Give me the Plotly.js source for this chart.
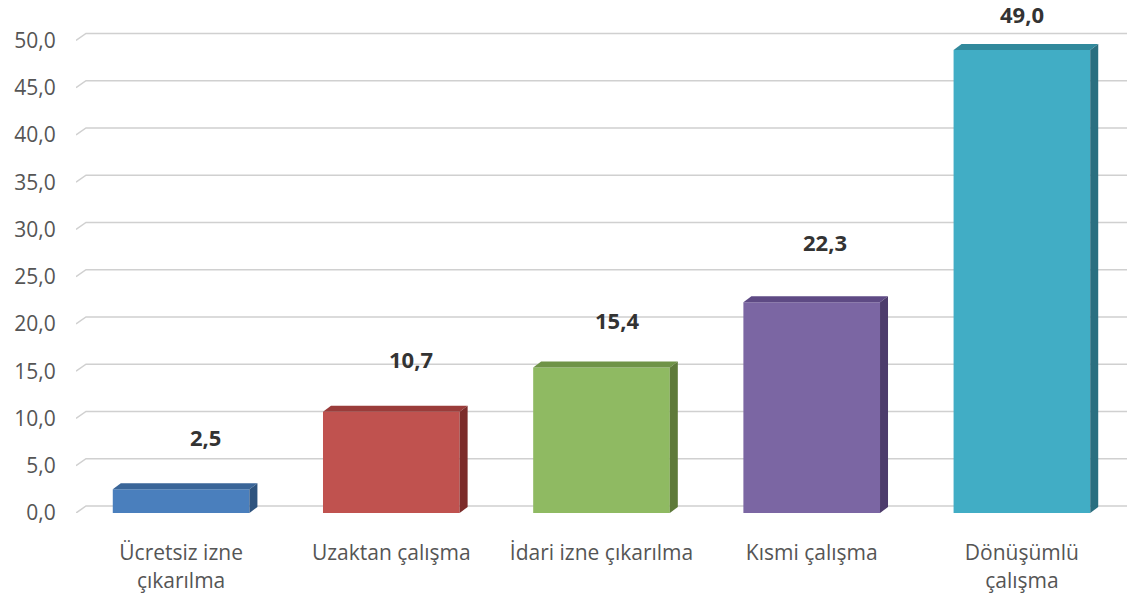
<!DOCTYPE html>
<html>
<head>
<meta charset="utf-8">
<script src="https://cdn.plot.ly/plotly-3.0.1.min.js"></script>
<style>html,body{margin:0;padding:0;background:#fff;}#chart{width:1127px;height:594px;}</style>
</head>
<body>
<div id="chart"></div>
<script>
// ---- data ----
const categories = ["Ücretsiz izne<br>çıkarılma", "Uzaktan çalışma", "İdari izne çıkarılma", "Kısmi çalışma", "Dönüşümlü<br>çalışma"];
const values = [2.5, 10.7, 15.4, 22.3, 49.0];
const yTickValues = [0, 5, 10, 15, 20, 25, 30, 35, 40, 45, 50];

// ---- styles ----
const frontColors = ["#4a7fbd", "#c0524f", "#8fba62", "#7b66a3", "#41adc5"];
const topColors   = ["#3a6598", "#9a3c3a", "#6f9347", "#5e4a84", "#31899c"];
const sideColors  = ["#2e537e", "#7c2c2a", "#5e7a3a", "#4d3c6c", "#2a6f80"];
const labelOffsetPx = [52, 53, 47, 60, 36];
const labelShiftXPx = [24, 20, 15, 13, 0];

const barWidth = 0.65;
const pxPerX = 1051 / 5;      // plot width / category span
const pxPerY = 482 / 51;      // plot height / y span
const barDx = 8 / pxPerX, barDy = 6 / pxPerY;
const gridDx = 10 / pxPerX, gridDy = 7 / pxPerY;

const fmt = v => v.toFixed(1).replace('.', ',');
const xs = categories.map((_, i) => i);

// gridlines (3D wall style) as shapes below the bars
const shapes = yTickValues.map(v => ({
  type: 'path', xref: 'x', yref: 'y', layer: 'below',
  path: 'M ' + (-0.5) + ',' + v + ' L ' + (-0.5 + gridDx) + ',' + (v + gridDy) + ' L 4.5,' + (v + gridDy),
  line: {color: '#d0d0d0', width: 1.5}
}));

const traces = [];
// front faces
traces.push({
  type: 'bar', x: xs, y: values, width: barWidth,
  marker: {color: frontColors, line: {width: 0}},
  hoverinfo: 'skip', showlegend: false
});
// top & side faces
values.forEach((v, i) => {
  const l = i - barWidth / 2, r = i + barWidth / 2;
  traces.push({
    type: 'scatter', mode: 'lines', fill: 'toself', hoverinfo: 'skip', showlegend: false, cliponaxis: false,
    x: [l, l + barDx, r + barDx, r, l], y: [v, v + barDy, v + barDy, v, v],
    line: {width: 0, color: topColors[i]}, fillcolor: topColors[i]
  });
  traces.push({
    type: 'scatter', mode: 'lines', fill: 'toself', hoverinfo: 'skip', showlegend: false, cliponaxis: false,
    x: [r, r + barDx, r + barDx, r, r], y: [0, barDy, v + barDy, v, 0],
    line: {width: 0, color: sideColors[i]}, fillcolor: sideColors[i]
  });
});

const annotations = values.map((v, i) => ({
  x: i, y: v, xref: 'x', yref: 'y', text: '<b>' + fmt(v) + '</b>',
  showarrow: false, yanchor: 'middle', yshift: labelOffsetPx[i], xshift: labelShiftXPx[i],
  font: {family: 'Open Sans', size: 22, color: '#333333'}
}));

const layout = {
  width: 1127, height: 594,
  margin: {l: 76, r: 0, t: 31, b: 81},
  paper_bgcolor: '#ffffff', plot_bgcolor: 'rgba(0,0,0,0)',
  showlegend: false,
  xaxis: {
    range: [-0.5, 4.5], tickvals: xs, ticktext: categories,
    showgrid: false, zeroline: false, showline: false,
    ticks: 'outside', ticklen: 21, tickcolor: 'rgba(0,0,0,0)',
    tickfont: {family: 'Open Sans', size: 21, color: '#555555'}, fixedrange: true
  },
  yaxis: {
    range: [0, 51], tickvals: yTickValues, ticktext: yTickValues.map(fmt),
    showgrid: false, zeroline: false, showline: false,
    ticks: 'outside', ticklen: 15, tickcolor: 'rgba(0,0,0,0)',
    tickfont: {family: 'Open Sans', size: 21, color: '#555555'}, fixedrange: true
  },
  shapes: shapes,
  annotations: annotations
};

Plotly.newPlot('chart', traces, layout, {staticPlot: true, displayModeBar: false});
</script>
</body>
</html>
